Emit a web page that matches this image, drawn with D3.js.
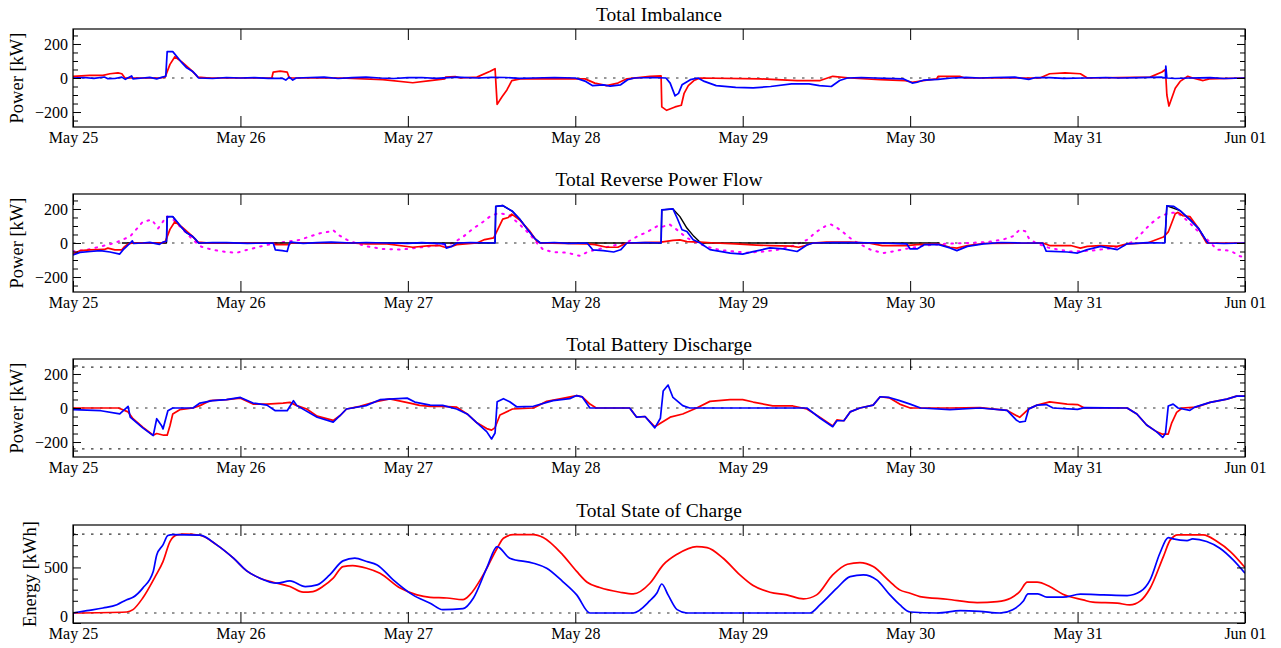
<!DOCTYPE html>
<html><head><meta charset="utf-8">
<script src="https://cdn.jsdelivr.net/npm/d3@7"></script>
<style>body{margin:0;background:#fff} svg{display:block} text{font-family:"Liberation Serif","Times New Roman",serif;fill:#000}</style>
</head><body><svg id="c" width="1281" height="648"></svg>
<script>
// ---------- DATA (hours since May 25 00:00, value) ----------
const dayTicks = [0, 24, 48, 72, 96, 120, 144, 168];
const dayLabels = ["May 25", "May 26", "May 27", "May 28", "May 29", "May 30", "May 31", "Jun 01"];
const titles = ["Total Imbalance", "Total Reverse Power Flow", "Total Battery Discharge", "Total State of Charge"];
const yLabels = ["Power [kW]", "Power [kW]", "Power [kW]", "Energy [kWh]"];
const powerTicks = [-200, 0, 200];
const powerTickLabels = ["\u2212200", "0", "200"];
const powerMinor = [-250, -150, -100, -50, 50, 100, 150, 250];
const energyTicks = [0, 500];
const energyTickLabels = ["0", "500"];
const energyMinor = [100, 200, 300, 400, 600, 700, 800];
const imbalanceRefs = [0];
const reverseRefs = [0];
const dischargeRefs = [-240, 0, 240];
const socRefs = [90, 800];

const imbRed = [[0,10],[2.4,15],[4.3,15],[5.3,25],[6.45,30],[7,25],[7.45,0],[12.5,0],[13.2,5],[13.9,80],[14.6,125],[15.6,95],[17.1,40],[17.9,5],[19.6,0],[28.5,0],[28.7,35],[29.7,40],[30.7,35],[31,0],[38.3,0],[44.4,-10],[48.7,-28],[51.2,-15],[53.3,-5],[53.4,5],[54.8,8],[55.5,0],[57.9,5],[59.8,40],[60.5,55],[60.8,-155],[61.5,-110],[62.2,-70],[62.9,-15],[64.1,-5],[73.4,-5],[74.8,-30],[76.5,-45],[78.1,-30],[79.4,-5],[82.7,10],[84.3,12],[84.4,-170],[85.1,-190],[86.3,-170],[87.2,-160],[87.6,-90],[88.2,-45],[89,-15],[89.9,0],[98.5,-5],[103.8,-15],[107.1,-15],[108.9,10],[111.4,0],[115.7,-10],[119.3,-15],[120.3,-25],[122.9,-10],[123.8,-5],[124,10],[127.1,10],[127.8,0],[138.6,0],[140,25],[142.2,30],[144.4,25],[145.4,0],[154.4,5],[156.1,35],[156.6,50],[156.8,-100],[157.1,-165],[158,-60],[158.7,-20],[159.8,10],[160.5,0],[162,-15],[162.9,-5],[168,0]];
const imbBlue = [[0,0],[1.5,3],[3,-2],[4.5,6],[5,-4],[6,-3],[7,5],[7.5,-8],[8.4,12],[8.6,-5],[10,0],[11,4],[12,-5],[12.8,5],[13.3,10],[13.5,155],[14.3,155],[15,120],[15.6,90],[16.3,60],[17.1,40],[17.6,20],[18,0],[20,-3],[22,3],[24,0],[26,2],[28,-2],[30,-2],[30.5,-12],[31,5],[31.5,-12],[32,0],[34,3],[36,5],[38,-3],[40,2],[42,5],[44,0],[46,-3],[48,2],[50,3],[52,-2],[55,5],[58,0],[60,4],[62,3],[64,-2],[66,0],[69,3],[72,0],[73.5,-20],[74.5,-45],[76,-40],[77,-48],[78.5,-40],[79.5,-10],[80.5,0],[83,3],[85,0],[85.6,-30],[86.3,-105],[86.8,-90],[87.3,-40],[88.5,-10],[89.6,0],[90.5,-20],[92.2,-45],[95,-55],[97.5,-58],[100,-50],[103,-35],[105.5,-35],[107,-45],[108.7,-50],[109.9,-15],[111,0],[113,3],[115,0],[119,-5],[120.3,-30],[121,-25],[122,-12],[124,-8],[126,0],[128,4],[130,0],[132,3],[135,5],[137,-8],[138,3],[140,2],[142,-2],[145,0],[148,3],[150,0],[153,2],[156,5],[156.6,0],[156.65,70],[156.8,0],[158,-3],[160,0],[163,2],[165,-3],[168,0]];

const rpfRed = [[0,-65],[1,-45],[2.5,-40],[4.5,-38],[5,-30],[6,-40],[7,-40],[7.3,-25],[7.9,-5],[8.6,0],[12.5,0],[13.2,5],[13.9,80],[14.6,125],[15.6,95],[17.1,40],[17.9,5],[19.6,0],[28.7,0],[29,-10],[31,-10],[31.2,0],[40,0],[42,-5],[45,-5],[48.7,-25],[51.2,-15],[52.5,-15],[53.3,-25],[54.3,-20],[55,-10],[57.9,0],[59,20],[60.3,30],[60.6,55],[61.6,140],[62.4,150],[62.9,170],[64,137],[65.5,68],[66.5,10],[67,0],[73.7,-5],[74.8,-10],[76.5,-25],[78.1,-25],[79.4,0],[84.3,5],[86,15],[87,18],[88,8],[89.9,5],[92,0],[95,-5],[98,-12],[100,-15],[103,-18],[104,-25],[105,-15],[106,0],[108,5],[111.4,5],[114,0],[116,-15],[119.5,-15],[121,-10],[124,-5],[125.7,-25],[126.7,-30],[128.2,-15],[130.5,-3],[139,0],[140,-15],[143,-15],[144.4,-30],[145.4,-20],[147.3,-15],[149.7,-20],[151.1,-5],[154,0],[156.3,35],[157,65],[158,172],[158.4,180],[159.1,160],[160.1,155],[161.3,88],[162.5,0],[168,0]];
const rpfBlue = [[0,-70],[1,-55],[2.5,-50],[3.9,-45],[5.3,-53],[6.7,-65],[7.2,-39],[7.7,-20],[8.2,0],[8.5,12],[8.7,-3],[10,0],[11,4],[12.4,-8],[12.9,5],[13.4,10],[13.5,155],[14.3,155],[15,120],[15.6,90],[16.3,60],[17.1,40],[17.6,20],[18,0],[20,3],[22,2],[25,-2],[28.7,0],[29,-40],[30,-45],[30.7,-50],[31,-5],[31.2,5],[33,-2],[35,2],[37,5],[40,0],[42,3],[45,0],[48,-2],[50,2],[53.3,-5],[53.5,-30],[54.3,-20],[55,0],[57,3],[60.5,0],[60.6,215],[61.6,220],[63,186],[64.1,137],[65,88],[66.2,26],[67,0],[69,3],[71,-2],[73.7,0],[74.5,-40],[76,-45],[77.5,-53],[78.5,-40],[79.4,0],[82,3],[84.3,0],[84.4,195],[86,200],[86.6,147],[87.3,78],[88,68],[88.9,19],[89.9,0],[91.3,-39],[94.2,-59],[96,-65],[97.5,-51],[99.9,-29],[101.8,-35],[103.8,-50],[105.2,-12],[106.1,0],[109,3],[112,2],[116,0],[119.5,-5],[120,-35],[121,-35],[122,-10],[124,-8],[125.7,-29],[126.7,-45],[128.2,-20],[130.5,-5],[133,3],[136,0],[139,0],[139.5,-48],[142.5,-53],[144,-59],[145.4,-39],[147.3,-20],[149.7,-39],[151.1,-5],[154,2],[156.5,0],[156.8,219],[157.8,215],[158.7,190],[160.1,137],[161.3,88],[162.5,10],[162.7,0],[165,-3],[168,0]];
const rpfBlack = [[7,0],[13.4,0],[13.5,155],[14.3,155],[15,120],[15.6,90],[16.3,60],[17.1,40],[17.6,20],[18,0],[60.5,0],[60.6,215],[61.6,220],[63,186],[64.1,137],[65,88],[66.2,26],[67,0],[84.3,0],[84.4,195],[86,200],[87,155],[88,88],[89,39],[90,0],[124.2,0],[124.3,null],[156.5,0],[156.8,219],[158.7,190],[160.1,137],[161.3,88],[162.5,10],[162.7,0]];
const rpfForecast = [[0,-50],[2,-40],[4,-20],[6,0],[8.2,39],[9.2,86],[10,125],[11.3,137],[12.2,86],[12.8,120],[13.4,157],[14.3,140],[15.6,86],[16.5,47],[17.5,8],[18.4,-22],[20.1,-41],[22,-53],[23.5,-57],[24.9,-41],[27.3,-16],[29.2,0],[31.1,10],[32.5,18],[34,39],[35.4,57],[36.8,67],[37.3,76],[38,49],[39.3,18],[40.5,0],[42.1,-20],[44.4,-35],[46.9,-39],[48.7,-31],[51,-20],[53,-10],[54.5,0],[56,39],[57.4,86],[58.8,125],[59.8,157],[61,176],[62.5,165],[64,110],[65.5,50],[66.5,0],[67.4,-39],[68.8,-53],[70.8,-57],[72.7,-76],[73.7,-53],[75.6,-33],[77.4,-16],[79.4,4],[80.9,39],[82.3,65],[83.7,98],[84.5,95],[85.5,110],[86.5,80],[88,30],[89.5,0],[90.9,-22],[92.7,-41],[96.6,-57],[99,-50],[101,-40],[103,-20],[105.2,18],[106.6,67],[107.8,98],[108.6,110],[109.5,90],[110.5,60],[111.4,29],[112.5,0],[114.3,-39],[116.1,-59],[117.6,-49],[119.6,-33],[122,-15],[125,-5],[128,0],[131,5],[133.3,20],[134.7,39],[135.7,78],[136.5,69],[137,29],[138,0],[140,-30],[143,-50],[146,-45],[149,-30],[151,-10],[152,10],[153,49],[154.4,110],[155.8,155],[157,175],[158.2,180],[159.5,140],[161.1,76],[162.6,20],[164,-39],[165.9,-45],[167.3,-78],[168,-85]];

const bdRed = [[0,0],[6.5,0],[7.9,-23],[8.6,-63],[10,-112],[11.5,-160],[12,-150],[13,-160],[13.5,-160],[13.9,-104],[14.3,-35],[15.3,-10],[17.2,0],[18.2,14],[19.6,43],[22,49],[24,58],[25.8,23],[27.8,23],[30.1,29],[31.1,33],[32.1,14],[33.5,-6],[35,-48],[37.3,-73],[38.3,-44],[39.2,-6],[41.1,10],[43.6,39],[45.4,54],[48.3,29],[49.7,15],[51.2,10],[53,10],[55,5],[56.5,-35],[57.9,-87],[59.3,-121],[60,-130],[60.5,-115],[61.2,-41],[63,-6],[66,0],[67.9,39],[70,55],[72.2,73],[73,65],[74.1,23],[75,0],[79.8,0],[80.8,-54],[82,-50],[83.4,-110],[84.2,-90],[85.6,-54],[87.4,-35],[89.4,0],[91.3,39],[94.2,49],[96,49],[97.5,35],[100.3,12],[103.2,12],[105.2,-6],[107.1,-55],[108.9,-105],[109.5,-70],[110.5,-75],[111.4,-23],[112.8,0],[114.7,17],[115.7,66],[117,60],[118.5,23],[120,0],[125.7,0],[130,2],[133.9,-14],[135.7,-55],[137,-5],[138.2,17],[140,36],[142.5,23],[144,20],[145,0],[151.1,0],[152.5,-35],[153.9,-100],[155.3,-139],[156.1,-153],[157,-153],[157.5,-87],[158.2,-26],[159,0],[161,5],[163,33],[165.4,52],[166.8,70],[168,70]];
const bdBlue = [[0,-10],[4,-16],[6.7,-35],[7.9,10],[8.2,-54],[10,-117],[11.5,-162],[12,-63],[12.7,-104],[12.9,-123],[13.6,-16],[14.3,0],[17.2,0],[18.2,29],[20,43],[22,49],[24,62],[25.8,29],[27.8,17],[29,-16],[30.7,-16],[31.6,43],[32.1,14],[35,-54],[37.3,-83],[38.3,-44],[39.2,-6],[42,14],[44,49],[47.9,58],[49,35],[51.2,17],[53,15],[55,-6],[56.5,-35],[57.9,-87],[59.3,-139],[60,-182],[60.5,-147],[60.8,37],[61.7,55],[62.6,37],[63.6,7],[66,10],[68.8,43],[71.2,55],[72.2,73],[73,65],[74.1,0],[79.8,0],[80.8,-54],[82,-50],[83.4,-117],[84.2,-60],[84.6,100],[85.3,135],[86,62],[87.4,14],[88.4,0],[105.2,0],[107.1,-60],[108.9,-110],[109.5,-75],[110.5,-75],[111.4,-23],[112.8,0],[114.7,17],[115.7,66],[117,62],[118.5,43],[120,23],[121.5,0],[125.7,-10],[130,0],[133.9,-14],[135.2,-70],[135.7,-83],[136.5,-78],[137,-5],[138.2,17],[139.5,20],[140.5,0],[144,-8],[145,2],[151.1,0],[152.5,-35],[153.9,-100],[155.3,-139],[156.2,-173],[156.6,-150],[157,12],[157.7,23],[158.4,0],[160.1,-14],[160.8,5],[163,33],[165.4,52],[166.8,70],[168,70]];

const socRed = [[0,90],[7.7,99],[8.6,120],[10,225],[11.8,420],[12.9,553],[13.9,733],[14.9,793],[16,800],[18.2,790],[20.6,703],[23,583],[24.9,469],[26.8,403],[28.7,367],[31.1,328],[33,277],[34.4,283],[35.8,328],[37.3,403],[38.7,508],[40.1,517],[42.1,493],[44,448],[46.9,314],[49.3,253],[51.2,231],[53.6,225],[55.9,210],[56.9,255],[58.8,433],[60.8,673],[61.7,763],[63.1,795],[66,795],[67.4,769],[70.2,613],[72.2,464],[73.7,367],[75.5,319],[78.4,277],[80.3,262],[82.7,358],[84.6,523],[86.6,619],[89.4,688],[90.9,679],[93.2,583],[95.6,433],[97.5,337],[99.9,277],[102.3,253],[104.7,217],[106.6,253],[108.9,433],[111,529],[112.8,544],[114.7,508],[117.1,373],[118.5,298],[120,268],[121.4,238],[125.3,214],[129.6,184],[132.5,193],[134.4,223],[135.7,283],[136.8,367],[138.2,367],[140,328],[141.9,259],[144.8,208],[146.2,187],[149.7,178],[151.5,163],[153,199],[154.4,313],[156.3,598],[157.3,748],[158.4,793],[162,793],[164,733],[165.9,643],[168,499]];
const socBlue = [[0,90],[2,111],[4.3,135],[6.3,165],[7.7,210],[8.6,231],[10,314],[11.5,464],[12,613],[12.9,703],[13.6,787],[14.3,795],[18.2,790],[20.6,703],[23,583],[24.9,469],[26.8,403],[29.2,358],[31.1,379],[33.3,328],[35,343],[36.8,433],[38.7,559],[40.4,583],[42.1,553],[43.6,523],[45.9,388],[48.7,253],[51.2,178],[53,120],[55.9,129],[57.4,225],[59.3,493],[60.8,688],[62.6,583],[66,538],[67.9,493],[70.2,373],[72.2,253],[74.1,90],[80.3,90],[82.7,201],[83.7,270],[84.4,351],[85.3,253],[86.6,120],[88,90],[105.6,90],[107.1,165],[109.5,314],[111.4,418],[113.3,433],[115.2,388],[117.1,253],[118.5,165],[120,99],[123.9,90],[127.2,111],[130,105],[132.9,90],[134.7,120],[136.2,195],[136.9,262],[138.3,262],[139.6,232],[141.9,232],[144.4,259],[147.7,253],[151.1,247],[153,283],[154.4,388],[155.8,628],[157,769],[157.7,757],[159.7,742],[160.5,757],[162.5,733],[164.4,673],[166.3,568],[168,448]];

// ---------- LAYOUT ----------
const svg = d3.select("#c");
const L = 73, R = 1245, PH = 98;
const x = d3.scaleLinear().domain([0, 168]).range([L, R]);

const panels = [
  {top: 29, domain: [-288, 288], major: powerTicks, majorLabels: powerTickLabels, minor: powerMinor, refs: imbalanceRefs, ylx: 19,
   series: [{d: imbRed, c: "#ff0000"}, {d: imbBlue, c: "#0000ff"}]},
  {top: 194, domain: [-288, 288], major: powerTicks, majorLabels: powerTickLabels, minor: powerMinor, refs: reverseRefs, ylx: 19,
   series: [{d: rpfForecast, c: "#ff00ff", dash: "1.6,6", w: 2}, {d: rpfBlack, c: "#000", w: 1.4}, {d: rpfRed, c: "#ff0000"}, {d: rpfBlue, c: "#0000ff"}]},
  {top: 359, domain: [-288, 288], major: powerTicks, majorLabels: powerTickLabels, minor: powerMinor, refs: dischargeRefs, ylx: 19,
   series: [{d: bdRed, c: "#ff0000"}, {d: bdBlue, c: "#0000ff"}]},
  {top: 525, domain: [0, 882], major: energyTicks, majorLabels: energyTickLabels, minor: energyMinor, refs: socRefs, ylx: 32, smooth: true,
   series: [{d: socRed, c: "#ff0000"}, {d: socBlue, c: "#0000ff"}]}
];

panels.forEach((p, i) => {
  const y = d3.scaleLinear().domain(p.domain).range([p.top + PH, p.top]);
  const g = svg.append("g");
  const clipId = "clip" + i;
  svg.append("clipPath").attr("id", clipId).append("rect")
    .attr("x", L).attr("y", p.top).attr("width", R - L).attr("height", PH);

  g.selectAll(".ref").data(p.refs).join("line")
    .attr("x1", L).attr("x2", R).attr("y1", d => y(d)).attr("y2", d => y(d))
    .attr("stroke", "#333").attr("stroke-width", 1.1).attr("stroke-dasharray", "2.5,6.5");

  const line = d3.line().defined(d => d[1] != null).x(d => x(d[0])).y(d => y(d[1]))
    .curve(p.smooth ? d3.curveMonotoneX : d3.curveLinear);
  const sg = g.append("g").attr("clip-path", `url(#${clipId})`);
  p.series.forEach(s => {
    sg.append("path").attr("d", line(s.d)).attr("fill", "none")
      .attr("stroke", s.c).attr("stroke-width", s.w || 1.7)
      .attr("stroke-linejoin", "round")
      .attr("stroke-linecap", s.dash ? "round" : "butt")
      .attr("stroke-dasharray", s.dash || null);
  });

  const bottom = g.append("g").attr("transform", `translate(0,${p.top + PH})`)
    .call(d3.axisBottom(x).tickValues(dayTicks).tickFormat((d, k) => dayLabels[k]).tickSize(-11).tickPadding(5));
  const topAx = g.append("g").attr("transform", `translate(0,${p.top})`)
    .call(d3.axisTop(x).tickValues(dayTicks).tickFormat("").tickSize(-11));
  const leftMaj = g.append("g").attr("transform", `translate(${L},0)`)
    .call(d3.axisLeft(y).tickValues(p.major).tickFormat((d, k) => p.majorLabels[k]).tickSize(-8).tickPadding(5));
  const leftMin = g.append("g").attr("transform", `translate(${L},0)`)
    .call(d3.axisLeft(y).tickValues(p.minor).tickFormat("").tickSize(-5));
  const rightMaj = g.append("g").attr("transform", `translate(${R},0)`)
    .call(d3.axisRight(y).tickValues(p.major).tickFormat("").tickSize(-8));
  const rightMin = g.append("g").attr("transform", `translate(${R},0)`)
    .call(d3.axisRight(y).tickValues(p.minor).tickFormat("").tickSize(-5));
  [bottom, topAx, leftMaj, leftMin, rightMaj, rightMin].forEach(a => {
    a.select(".domain").remove();
    a.selectAll("line").attr("stroke", "#000").attr("stroke-width", 1);
    a.selectAll("text").attr("font-family", "Liberation Serif, serif").attr("font-size", 16).attr("fill", "#000");
  });
  // keep the bottom "0" of the energy axis clear of the date label below it
  if (p.domain[0] === 0) leftMaj.selectAll("text").filter(d => d === 0).attr("dy", "-0.12em");

  g.append("rect").attr("x", L).attr("y", p.top).attr("width", R - L).attr("height", PH)
    .attr("fill", "none").attr("stroke", "#000").attr("stroke-width", 1.2);

  g.append("text").attr("x", (L + R) / 2).attr("y", p.top - 8).attr("text-anchor", "middle")
    .attr("font-size", 19.5).text(titles[i]);
  g.append("text").attr("transform", `translate(${p.ylx},${p.top + PH / 2}) rotate(-90)`)
    .attr("text-anchor", "middle").attr("dominant-baseline", "middle")
    .attr("font-size", 18.5).text(yLabels[i]);
});
</script></body></html>
